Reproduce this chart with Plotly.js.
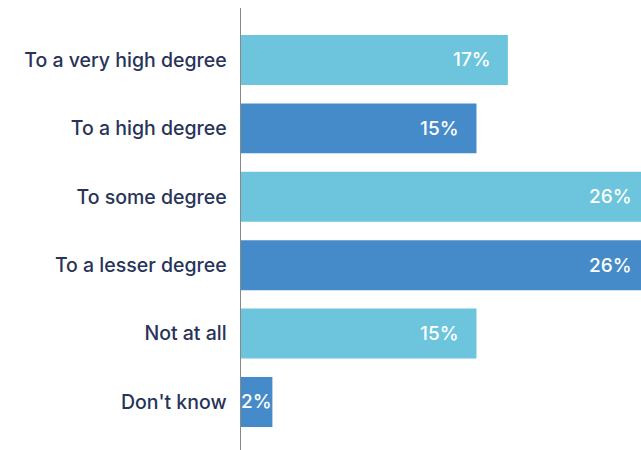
<!DOCTYPE html>
<html><head><meta charset="utf-8">
<script src="https://cdn.plot.ly/plotly-3.0.1.min.js"></script>
<style>html,body{margin:0;padding:0;overflow:hidden;background:#fff}#chart{width:660px;height:450px}</style>
</head><body><div id="chart"></div>
<script>
const categories = ["To a very high degree","To a high degree","To some degree","To a lesser degree","Not at all","Don't know"];
const values = [17,15,26,26,15,2];
const labels = ["17%","15%","26%","26%","15%","2%"];
const colors = ["#6cc5dd","#468bc9","#6cc5dd","#468bc9","#6cc5dd","#468bc9"];

const annotations = values.map((v,i)=>({
  x: v < 5 ? v/2 : v, y: categories[i], xref:'x', yref:'y',
  text: labels[i], showarrow:false,
  xanchor: v < 5 ? 'center' : 'right', xshift: v < 5 ? 0 : -15,
  font:{family:'Inter', size:19, color:'#ffffff', weight:500}
}));

Plotly.newPlot('chart',[{
  type:'bar', orientation:'h', x: values, y: categories,
  marker:{color: colors}, hoverinfo:'none'
}],{
  width:660, height:450,
  margin:{l:241, r:0, t:8, b:0},
  bargap:0.27,
  showlegend:false,
  paper_bgcolor:'#fff', plot_bgcolor:'#fff',
  xaxis:{range:[0,26.69], visible:false, fixedrange:true},
  yaxis:{type:'category', range:[5.702,-0.760], showline:true, linecolor:'#888888', linewidth:1.5,
         showgrid:false, zeroline:false, ticks:'', ticklabelstandoff:9,
         tickfont:{family:'Inter', size:19.5, color:'#283359', weight:500}},
  annotations: annotations
},{displayModeBar:false, staticPlot:true});
</script></body></html>
